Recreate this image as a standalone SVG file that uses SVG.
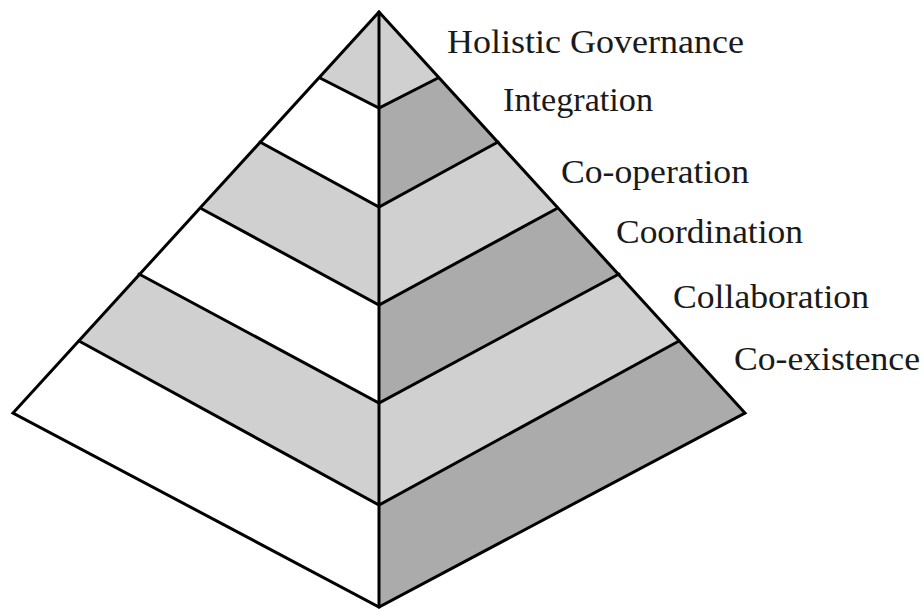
<svg xmlns="http://www.w3.org/2000/svg" width="924" height="610" viewBox="0 0 924 610">
<style>
.w{fill:#ffffff}
.l{fill:#d0d0d0}
.d{fill:#ababab}
.ln{fill:none;stroke:#000;stroke-width:3;stroke-linejoin:miter;stroke-linecap:round}
.t{font-family:"Liberation Serif","Times New Roman",serif;font-size:33px;fill:#1a1a1a}
</style>
<rect width="924" height="610" fill="#ffffff"/>
<g id="level-holistic-governance">
<polygon class="l" points="379,12 320,78 379,108"/>
<polygon class="l" points="379,12 438,78 379,108"/>
</g>
<g id="level-integration">
<polygon class="w" points="320,78 260,142 379,207 379,108"/>
<polygon class="d" points="438,78 498,142 379,207 379,108"/>
</g>
<g id="level-co-operation">
<polygon class="l" points="260,142 202,209 379,305 379,207"/>
<polygon class="l" points="498,142 556,209 379,305 379,207"/>
</g>
<g id="level-coordination">
<polygon class="w" points="202,209 139,274 379,403 379,305"/>
<polygon class="d" points="556,209 619,274 379,403 379,305"/>
</g>
<g id="level-collaboration">
<polygon class="l" points="139,274 79,341 379,505 379,403"/>
<polygon class="l" points="619,274 679,341 379,505 379,403"/>
</g>
<g id="level-co-existence">
<polygon class="w" points="79,341 13,413 379,607 379,505"/>
<polygon class="d" points="679,341 745,413 379,607 379,505"/>
</g>
<g id="lines">
<polygon class="ln" points="379,12 745,413 379,607 13,413"/>
<line class="ln" x1="379" y1="12" x2="379" y2="607"/>
<polyline class="ln" points="320,78 379,108 438,78"/>
<polyline class="ln" points="260,142 379,207 498,142"/>
<polyline class="ln" points="202,209 379,305 556,209"/>
<polyline class="ln" points="139,274 379,403 619,274"/>
<polyline class="ln" points="79,341 379,505 679,341"/>
</g>
<g id="labels">
<text class="t" x="447" y="53" textLength="297" lengthAdjust="spacingAndGlyphs">Holistic Governance</text>
<text class="t" x="503" y="111" textLength="150" lengthAdjust="spacingAndGlyphs">Integration</text>
<text class="t" x="561" y="183" textLength="188" lengthAdjust="spacingAndGlyphs">Co-operation</text>
<text class="t" x="616" y="243" textLength="187" lengthAdjust="spacingAndGlyphs">Coordination</text>
<text class="t" x="673" y="308" textLength="196" lengthAdjust="spacingAndGlyphs">Collaboration</text>
<text class="t" x="734" y="370" textLength="186" lengthAdjust="spacingAndGlyphs">Co-existence</text>
</g>
</svg>
